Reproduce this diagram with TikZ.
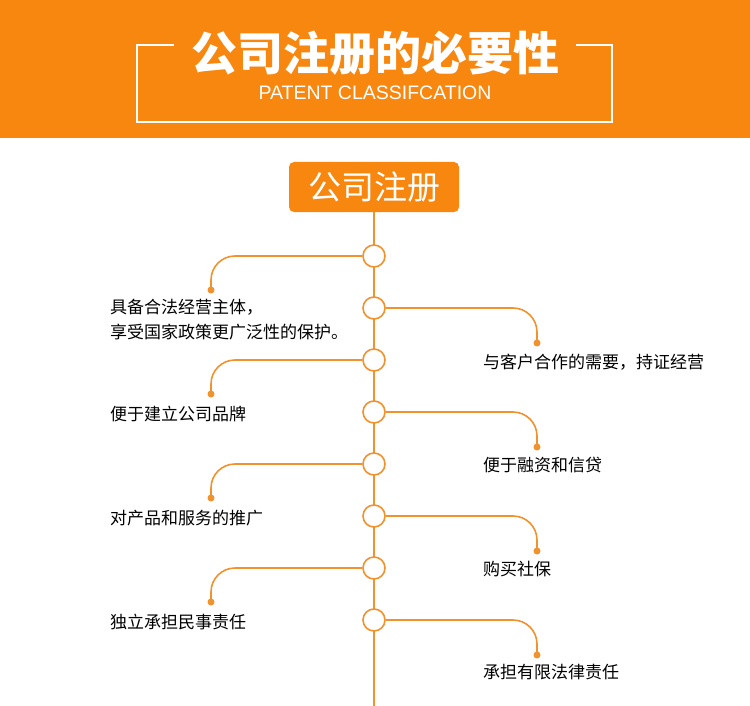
\documentclass[tikz,border=0pt]{standalone}
\usepackage{fontspec}
\newfontfamily\cjk{Noto Sans CJK SC}
\setsansfont{Liberation Sans}
\definecolor{headorange}{HTML}{F7870F}
\definecolor{lineorange}{HTML}{F0922E}
\begin{document}
\begin{tikzpicture}[x=1pt, y=-1pt,
        stop/.style={circle, draw=lineorange, line width=1.6pt, fill=white, minimum size=22pt, inner sep=0pt},
        leaf/.style={circle, fill=lineorange, minimum size=7pt, inner sep=0pt},
        branch/.style={draw=lineorange, line width=1.6pt, rounded corners=24pt},
        label/.style={font=\cjk\fontsize{17}{25}\selectfont, align=left, anchor=west, inner sep=0pt}
    ]
        \useasboundingbox (0,0) rectangle (750,706);
        \fill[headorange] (0,0) rectangle (750,138);
        % header frame
        \draw[white, line width=1.5pt] (174,45) -- (137,45) -- (137,122) -- (612,122) -- (612,45) -- (576,45);
        \node[text=white, font=\cjk\bfseries\fontsize{46}{50}\selectfont] (title) at (375,53) {公司注册的必要性};
        \node[text=white, font=\sffamily\fontsize{19.5}{22}\selectfont] (sub) at (375,93) {PATENT CLASSIFCATION};

        \node[fill=headorange, rounded corners=5pt, minimum width=170pt, minimum height=50pt, text=white, font=\cjk\fontsize{33}{36}\selectfont] (top) at (374,187) {公司注册};
        \coordinate (bottom) at (374,706);
        \draw[lineorange, line width=1.6pt] (top.south) -- (bottom);

        % stops on the line
        \foreach \i/\y in {1/256, 2/308, 3/360, 4/412, 5/464, 6/516, 7/568, 8/620}
            \node[stop] (s\i) at (374,\y) {};

        % left branches
        \foreach \i/\y in {1/256, 3/360, 5/464, 7/568} {
            \node[leaf] (l\i) at (211,\y+34) {};
            \draw[branch] (s\i.west) -- (211,\y) -- (l\i.center);
        }
        % right branches
        \foreach \i/\y in {2/308, 4/412, 6/516, 8/620} {
            \node[leaf] (r\i) at (537,\y+35) {};
            \draw[branch] (s\i.east) -- (537,\y) -- (r\i.center);
        }

        \node[label] (t1) at (110,320) {具备合法经营主体，\\享受国家政策更广泛性的保护。};
        \node[label] (t3) at (110,414) {便于建立公司品牌};
        \node[label] (t5) at (110,518) {对产品和服务的推广};
        \node[label] (t7) at (110,622) {独立承担民事责任};
        \node[label] (t2) at (483,362) {与客户合作的需要，持证经营};
        \node[label] (t4) at (483,465) {便于融资和信贷};
        \node[label] (t6) at (483,569) {购买社保};
        \node[label] (t8) at (483,672) {承担有限法律责任};
    \end{tikzpicture}
\end{document}
